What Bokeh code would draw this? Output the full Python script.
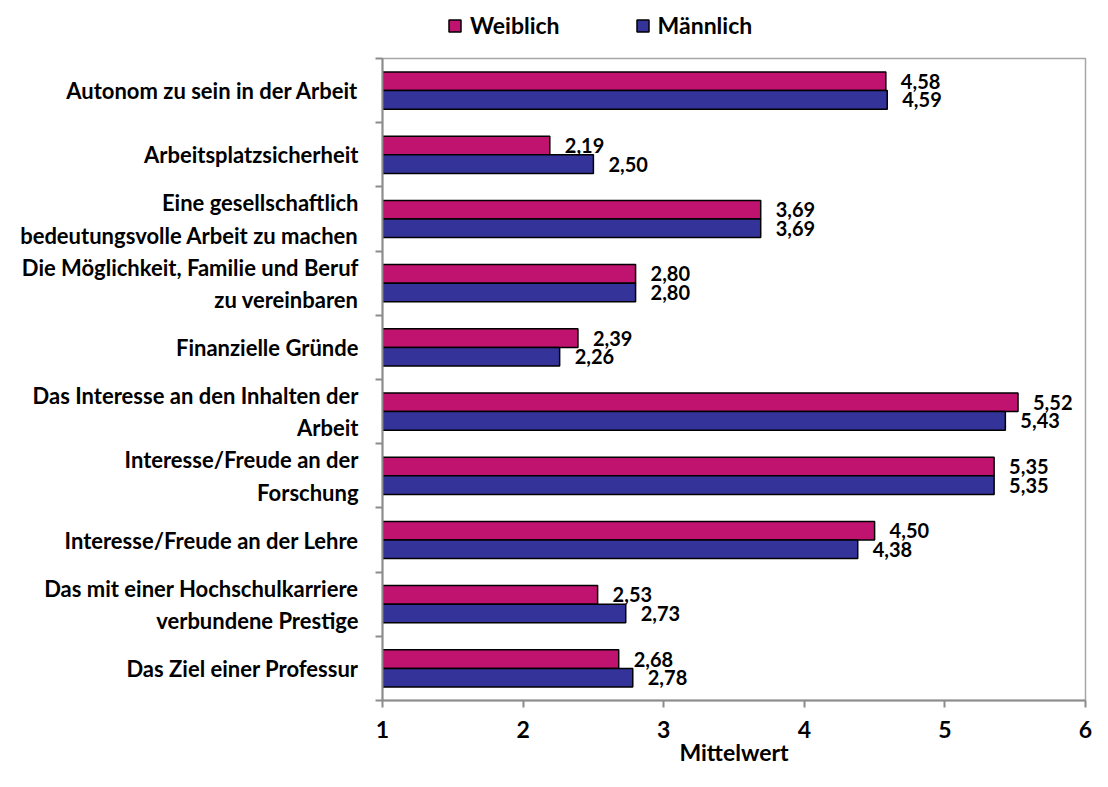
from bokeh.plotting import figure
from bokeh.layouts import column
from bokeh.models import Range1d, FixedTicker, Legend, ColumnDataSource
from bokeh.embed import file_html
from bokeh.resources import INLINE
from bokeh.core.properties import value

categories = [
    "Autonom zu sein in der Arbeit",
    "Arbeitsplatzsicherheit",
    "Eine gesellschaftlich\nbedeutungsvolle Arbeit zu machen",
    "Die Möglichkeit, Familie und Beruf\nzu vereinbaren",
    "Finanzielle Gründe",
    "Das Interesse an den Inhalten der\nArbeit",
    "Interesse/Freude an der\nForschung",
    "Interesse/Freude an der Lehre",
    "Das mit einer Hochschulkarriere\nverbundene Prestige",
    "Das Ziel einer Professur",
]
weiblich = [4.58, 2.19, 3.69, 2.80, 2.39, 5.52, 5.35, 4.50, 2.53, 2.68]
maennlich = [4.59, 2.50, 3.69, 2.80, 2.26, 5.43, 5.35, 4.38, 2.73, 2.78]
x_ticks = [1, 2, 3, 4, 5, 6]
series_names = ["Weiblich", "Männlich"]

FONT = "Lato"
COL_W = "#C0136F"
COL_M = "#333399"
AXIS_GRAY = "#8c8c8c"
W, H_LEG, H_MAIN = 1092, 44, 727
LEFT, RIGHT = 382, 7

n = len(categories)
pos = list(range(1, n + 1))
bar_h = 0.29


def fmt(v):
    return f"{v:.2f}".replace(".", ",")


# ---- legend strip (its own figure, frame aligned with the chart below) ----
pl = figure(width=W, height=H_LEG, output_backend="svg", toolbar_location=None,
            x_range=Range1d(0, 1), y_range=Range1d(0, 1),
            x_axis_location=None, y_axis_location=None,
            min_border_left=LEFT, min_border_right=RIGHT,
            min_border_top=0, min_border_bottom=0)
pl.outline_line_color = None
pl.xgrid.visible = False
pl.ygrid.visible = False
# legend swatches only (placed outside the strip's visible range)
lw = pl.hbar(y=[-10], right=[0], left=0, height=0.1,
             fill_color=COL_W, line_color="black", line_width=1.5)
lm = pl.hbar(y=[-10], right=[0], left=0, height=0.1,
             fill_color=COL_M, line_color="black", line_width=1.5)
legend = Legend(items=[(series_names[0], [lw]), (series_names[1], [lm])],
                orientation="horizontal", location=(61, 1),
                label_text_font=FONT, label_text_font_style="bold",
                label_text_font_size="23px", label_text_color="black",
                glyph_width=15, glyph_height=15,
                label_standoff=8, spacing=75, padding=4, margin=0,
                border_line_alpha=0, background_fill_alpha=0)
pl.add_layout(legend, "center")

# ---- main chart ----
p = figure(width=W, height=H_MAIN, output_backend="svg", toolbar_location=None,
           x_range=Range1d(x_ticks[0], x_ticks[-1]), y_range=Range1d(n + 0.5, 0.5),
           min_border_left=LEFT, min_border_right=RIGHT, min_border_top=14,
           min_border_bottom=71)

src_w = ColumnDataSource(dict(y=[q - bar_h / 2 for q in pos], right=weiblich,
                              label=[fmt(v) for v in weiblich]))
src_m = ColumnDataSource(dict(y=[q + bar_h / 2 for q in pos], right=maennlich,
                              label=[fmt(v) for v in maennlich]))

r_w = p.hbar(y="y", left=x_ticks[0], right="right", height=bar_h, source=src_w,
             fill_color=COL_W, line_color="black", line_width=1.5)
r_m = p.hbar(y="y", left=x_ticks[0], right="right", height=bar_h, source=src_m,
             fill_color=COL_M, line_color="black", line_width=1.5)

for src in (src_w, src_m):
    p.text(x="right", y="y", text="label", source=src, x_offset=15,
           text_baseline="middle", text_align="left",
           text_font=value(FONT), text_font_style="bold",
           text_font_size="20px", text_color="black")

p.xgrid.visible = False
p.ygrid.visible = False
p.outline_line_color = "#a6a6a6"
p.outline_line_width = 1.5

xa = p.xaxis[0]
xa.ticker = FixedTicker(ticks=x_ticks, minor_ticks=[])
xa.axis_label = "Mittelwert"
xa.axis_label_text_font = FONT
xa.axis_label_text_font_style = "bold"
xa.axis_label_text_font_size = "23px"
xa.axis_label_text_color = "black"
xa.axis_label_standoff = -3
xa.major_label_text_font = FONT
xa.major_label_text_font_style = "bold"
xa.major_label_text_font_size = "23px"
xa.major_label_text_color = "black"
xa.major_label_standoff = 13
xa.major_tick_out = 7
xa.major_tick_in = 0
xa.axis_line_color = AXIS_GRAY
xa.axis_line_width = 2
xa.major_tick_line_color = AXIS_GRAY
xa.major_tick_line_width = 2

ya = p.yaxis[0]
ya.ticker = FixedTicker(ticks=pos, minor_ticks=[q + 0.5 for q in [0] + pos])
ya.major_label_overrides = {q: c for q, c in zip(pos, categories)}
ya.major_label_text_font = FONT
ya.major_label_text_font_style = "bold"
ya.major_label_text_font_size = "22px"
ya.major_label_text_color = "black"
ya.major_label_standoff = 17
ya.major_tick_out = 0
ya.major_tick_in = 0
ya.minor_tick_out = 7
ya.minor_tick_in = 0
ya.minor_tick_line_color = AXIS_GRAY
ya.minor_tick_line_width = 2
ya.axis_line_color = AXIS_GRAY
ya.axis_line_width = 2

layout = column(pl, p, spacing=0)
open("out.html", "w").write(file_html(layout, INLINE))
